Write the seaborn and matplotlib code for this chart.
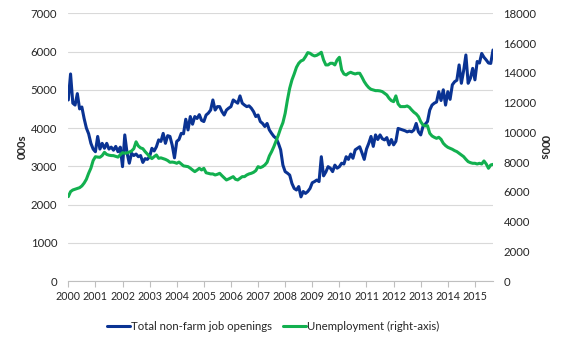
import matplotlib
matplotlib.use("Agg")
import matplotlib.pyplot as plt
import pandas as pd
import seaborn as sns

# ---- data (thousands), monthly, first point at the "2000" tick ----
years = list(range(2000, 2016))

openings_2000 = [4734, 5414, 4650, 4600, 4900, 4500, 4550, 4250, 4000, 3850, 3600, 3450]
openings_2001 = [3380, 3780, 3450, 3600, 3470, 3600, 3450, 3500, 3420, 3520, 3380, 3500]
openings_2002 = [2990, 3820, 3350, 3080, 3340, 3280, 3320, 3250, 3280, 3100, 3200, 3180]
openings_2003 = [3250, 3470, 3400, 3510, 3690, 3650, 3860, 3600, 3800, 3780, 3550, 3220]
openings_2004 = [3650, 3700, 3860, 3850, 4230, 3950, 4300, 4100, 4300, 4250, 4350, 4200]
openings_2005 = [4170, 4340, 4390, 4470, 4734, 4470, 4560, 4560, 4430, 4340, 4470, 4520]
openings_2006 = [4560, 4734, 4690, 4650, 4840, 4650, 4600, 4560, 4580, 4520, 4430, 4300]
openings_2007 = [4340, 4170, 4120, 4040, 4120, 3950, 3860, 3780, 3730, 3600, 3430, 3030]
openings_2008 = [2860, 2820, 2770, 2550, 2420, 2380, 2470, 2200, 2340, 2290, 2340, 2420]
openings_2009 = [2570, 2600, 2640, 2600, 3250, 2750, 2850, 2990, 2950, 2860, 3030, 2950]
openings_2010 = [2990, 3080, 3060, 3250, 3180, 3320, 3210, 3430, 3470, 3510, 3350, 3180]
openings_2011 = [3450, 3600, 3780, 3520, 3820, 3700, 3820, 3720, 3690, 3750, 3560, 3700]
openings_2012 = [3560, 3650, 3990, 3970, 3950, 3930, 3900, 3920, 3900, 3950, 4120, 3900]
openings_2013 = [3820, 4040, 4100, 4170, 4470, 4600, 4650, 4680, 4950, 4720, 5000, 4600]
openings_2014 = [4950, 4750, 5130, 5210, 5250, 5650, 5170, 5500, 5910, 5170, 5300, 5560]
openings_2015 = [5260, 5740, 5700, 5950, 5850, 5780, 5700, 5690, 6040]

unemp_2000 = [5673, 6009, 6120, 6171, 6223, 6274, 6390, 6583, 6840, 7241, 7586, 8100]
unemp_2001 = [8357, 8331, 8318, 8434, 8653, 8511, 8460, 8434, 8429, 8383, 8331, 8486]
unemp_2002 = [8630, 8589, 8614, 8666, 8743, 8897, 9360, 9077, 8949, 8897, 8699, 8537]
unemp_2003 = [8362, 8229, 8357, 8473, 8249, 8280, 8229, 8177, 8100, 7982, 7997, 7971]
unemp_2004 = [7915, 7997, 7869, 7740, 7714, 7689, 7586, 7465, 7354, 7457, 7578, 7465]
unemp_2005 = [7578, 7277, 7241, 7200, 7200, 7128, 7174, 7241, 7084, 6943, 6794, 6861]
unemp_2006 = [6943, 7017, 6840, 6794, 6904, 7017, 7017, 7128, 7200, 7241, 7308, 7421]
unemp_2007 = [7689, 7622, 7689, 7802, 7982, 8409, 8699, 9036, 9437, 9820, 10268, 10648]
unemp_2008 = [11276, 12173, 12957, 13518, 13922, 14369, 14639, 14796, 14863, 15086, 15356, 15313]
unemp_2009 = [15200, 15133, 15176, 15266, 15380, 14863, 14529, 14529, 14639, 14639, 14529, 14863]
unemp_2010 = [15043, 14192, 13922, 13855, 13968, 14035, 13968, 13922, 13968, 13968, 13706, 13407]
unemp_2011 = [13181, 13004, 12890, 12847, 12800, 12800, 12780, 12734, 12620, 12510, 12286, 12129]
unemp_2012 = [12060, 12446, 11906, 11726, 11726, 11726, 11769, 11679, 11502, 11345, 11232, 11052]
unemp_2013 = [10715, 10491, 10425, 10445, 9931, 9753, 9663, 9594, 9663, 9527, 9260, 9103]
unemp_2014 = [8990, 8923, 8856, 8766, 8699, 8586, 8473, 8362, 8182, 8025, 7958, 7915]
unemp_2015 = [7915, 7869, 7915, 7869, 8072, 7869, 7578, 7802, 7843]

openings = (openings_2000 + openings_2001 + openings_2002 + openings_2003 + openings_2004
            + openings_2005 + openings_2006 + openings_2007 + openings_2008 + openings_2009
            + openings_2010 + openings_2011 + openings_2012 + openings_2013 + openings_2014
            + openings_2015)
unemp = (unemp_2000 + unemp_2001 + unemp_2002 + unemp_2003 + unemp_2004 + unemp_2005
         + unemp_2006 + unemp_2007 + unemp_2008 + unemp_2009 + unemp_2010 + unemp_2011
         + unemp_2012 + unemp_2013 + unemp_2014 + unemp_2015)

label_open = "Total non-farm job openings"
label_unemp = "Unemployment (right-axis)"

df = pd.DataFrame({
    "t": [years[0] + m / 12 for m in range(len(openings))],
    "openings": openings,
    "unemp": unemp,
})

BLUE = "#0A3393"
GREEN = "#12B04F"
TXT = "#262626"
FS = 8.2

sns.set_theme(style="white")
plt.rcParams["font.family"] = ["Lato", "DejaVu Sans"]

W, H = 567, 340
fig = plt.figure(figsize=(W / 100, H / 100), dpi=100)
x0, x1, y0, y1 = 68.3, 493.0, 281.0, 13.3
ax = fig.add_axes([x0 / W, (H - y0) / H, (x1 - x0) / W, (y0 - y1) / H])

sns.lineplot(data=df, x="t", y="openings", ax=ax, color=BLUE, linewidth=2.2,
             label=label_open, legend=False)
ax2 = ax.twinx()
sns.lineplot(data=df, x="t", y="unemp", ax=ax2, color=GREEN, linewidth=2.2,
             label=label_unemp, legend=False)

ax.set_xlim(df["t"].iloc[0], df["t"].iloc[-1])
ax.set_xticks(years)
ax.set_xticklabels([str(y) for y in years])
ax.set_ylim(0, 7000)
ax.set_yticks(range(0, 7001, 1000))
ax2.set_ylim(0, 18000)
ax2.set_yticks(range(0, 18001, 2000))

ax.yaxis.grid(True, color="#D9D9D9", linewidth=0.8)
ax.xaxis.grid(False)
ax2.grid(False)
ax.set_axisbelow(True)

for a in (ax, ax2):
    for s in a.spines.values():
        s.set_visible(False)
ax.spines["bottom"].set_visible(True)
ax.spines["bottom"].set_color("#BFBFBF")
ax.spines["bottom"].set_linewidth(0.8)

ax.tick_params(axis="x", length=4, width=0.8, color="#BFBFBF", labelsize=7.7,
               labelcolor=TXT, pad=3, direction="out", bottom=True)
ax.tick_params(axis="y", length=0, labelsize=FS, labelcolor=TXT, pad=8)
ax2.tick_params(axis="y", length=0, labelsize=FS, labelcolor=TXT, pad=7.5)

ax.set_xlabel("")
ax.set_ylabel("000s", fontsize=FS, fontweight="bold", color=TXT, va="center")
ax.yaxis.set_label_coords((22 - x0) / (x1 - x0), 0.5)
ax2.set_ylabel("000s", fontsize=FS, fontweight="bold", color=TXT, rotation=270,
               va="center")
ax2.yaxis.set_label_coords((544 - x0) / (x1 - x0), 0.5)

handles = ax.get_lines() + ax2.get_lines()
fig.legend(handles, [label_open, label_unemp], loc="center",
           bbox_to_anchor=(273 / W, (H - 326) / H), ncol=2, frameon=False,
           fontsize=FS, handlelength=2.0, handletextpad=0.1, columnspacing=1.0,
           labelcolor=TXT)

fig.savefig("out.png", dpi=100)
